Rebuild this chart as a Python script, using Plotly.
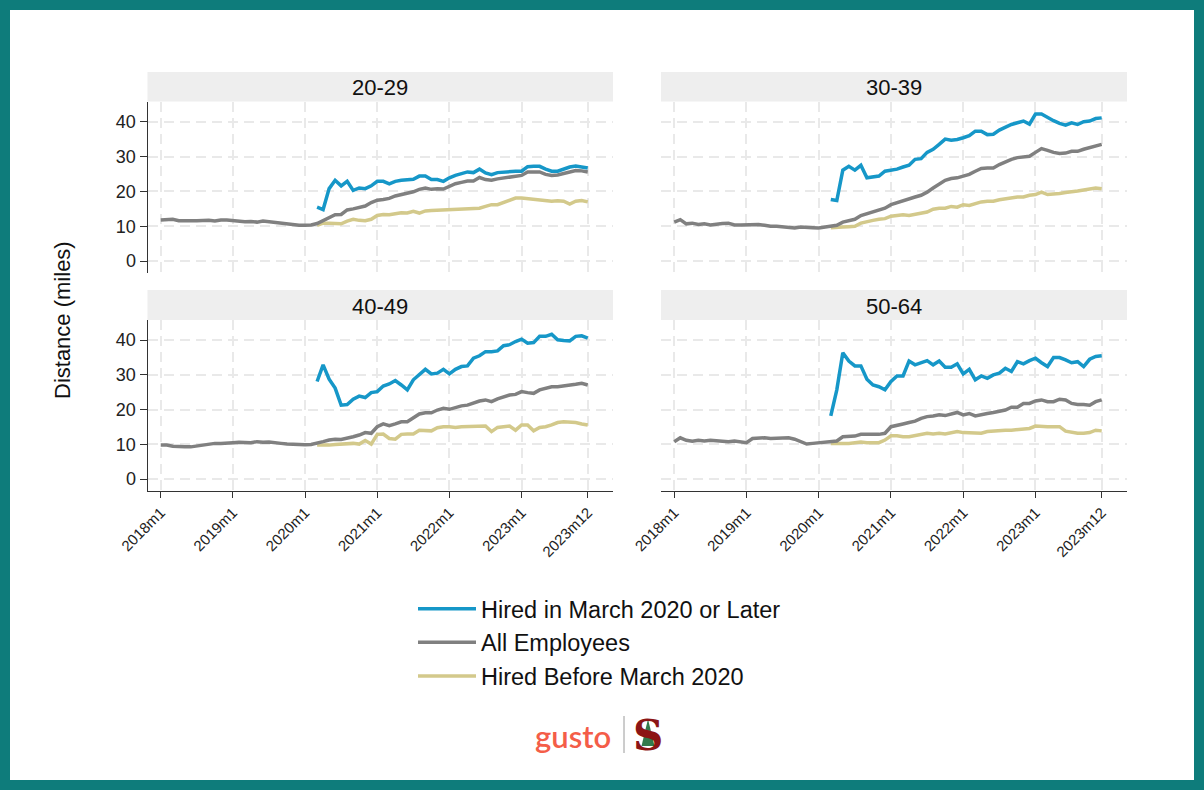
import plotly.graph_objects as go
from plotly.subplots import make_subplots

# ---------------- data ----------------
tick_labels = ["2018m1", "2019m1", "2020m1", "2021m1", "2022m1", "2023m1", "2023m12"]
month_labels = [f"{y}m{m}" for y in range(2018, 2024) for m in range(1, 13)]
hire_start = "2020m3"

panels = ["20-29", "30-39", "40-49", "50-64"]

all_20_29 = [11.8, 11.8, 12.0, 11.6, 11.5, 11.6, 11.6, 11.7, 11.7, 11.5,
             11.8, 11.8, 11.6, 11.3, 11.3, 11.4, 11.2, 11.5, 11.3, 11.2,
             11.0, 10.7, 10.4, 10.3, 10.3, 10.4, 10.8, 11.6, 12.5, 13.3,
             13.4, 14.7, 15.0, 15.5, 15.8, 16.8, 17.5, 17.7, 18.0, 18.7,
             19.1, 19.5, 19.9, 20.6, 21.0, 20.6, 20.8, 20.7, 21.5, 22.2,
             22.6, 23.0, 23.0, 24.0, 23.4, 23.2, 23.6, 23.9, 24.2, 24.4,
             24.6, 25.6, 25.7, 25.6, 24.9, 24.6, 24.7, 25.2, 25.7, 26.0,
             25.9, 25.6]
new_20_29 = [15.5, 14.8, 20.8, 23.2, 21.6, 22.9, 20.3, 21.0, 20.8, 21.6,
             22.9, 22.9, 22.2, 22.9, 23.2, 23.3, 23.5, 24.4, 24.4, 23.4,
             23.4, 22.9, 23.9, 24.6, 25.1, 25.6, 25.4, 26.4, 25.3, 24.8,
             25.4, 25.6, 25.6, 25.8, 25.8, 27.1, 27.2, 27.2, 26.4, 25.8,
             25.8, 26.4, 27.0, 27.3, 27.0, 26.7]
old_20_29 = [10.3, 10.9, 10.9, 10.7, 10.7, 11.5, 12.0, 11.7, 11.6, 12.0,
             13.1, 13.4, 13.3, 13.6, 13.9, 13.8, 14.3, 13.8, 14.4, 14.5,
             14.6, 14.5, 14.7, 14.8, 14.9, 15.1, 15.1, 15.2, 15.7, 16.2,
             16.2, 16.8, 17.6, 18.1, 18.1, 17.9, 17.7, 17.5, 17.3, 17.2,
             17.3, 17.2, 16.4, 17.2, 17.4, 17.0]

all_30_39 = [11.2, 11.9, 10.7, 10.9, 10.5, 10.7, 10.4, 10.7, 10.8, 10.9,
             10.4, 10.4, 10.5, 10.5, 10.5, 10.3, 10.0, 10.0, 9.8, 9.5,
             9.5, 9.8, 9.6, 9.6, 9.5, 9.8, 10.1, 10.3, 11.2, 11.7,
             12.0, 13.1, 13.6, 14.1, 14.6, 15.2, 16.2, 16.8, 17.4, 17.8,
             18.4, 18.9, 19.8, 21.0, 22.2, 23.2, 23.7, 23.9, 24.4, 24.9,
             25.8, 26.6, 26.7, 26.7, 27.7, 28.5, 29.2, 29.7, 29.9, 30.1,
             31.2, 32.3, 31.8, 31.2, 30.9, 31.0, 31.5, 31.5, 32.1, 32.6,
             33.1, 33.5]
new_30_39 = [17.7, 17.4, 26.1, 27.2, 26.1, 27.5, 23.9, 24.2, 24.4, 25.8,
             26.1, 26.4, 27.0, 27.5, 29.2, 29.4, 31.2, 32.1, 33.5, 35.0,
             34.7, 34.9, 35.4, 36.0, 37.3, 37.3, 36.3, 36.4, 37.6, 38.5,
             39.2, 39.7, 40.2, 39.3, 42.2, 42.2, 41.2, 40.3, 39.5, 39.0,
             39.7, 39.2, 40.0, 40.2, 40.9, 41.1]
old_30_39 = [9.6, 9.8, 9.8, 9.9, 10.0, 10.9, 11.4, 11.7, 12.0, 12.2,
             12.9, 13.1, 13.3, 13.1, 13.4, 13.6, 14.1, 14.9, 15.2, 15.2,
             15.7, 15.5, 16.2, 16.0, 16.5, 17.0, 17.2, 17.2, 17.6, 17.9,
             18.2, 18.4, 18.4, 18.9, 19.1, 19.8, 19.1, 19.2, 19.4, 19.7,
             19.8, 20.1, 20.4, 20.7, 21.0, 20.8]

all_40_49 = [9.8, 9.8, 9.5, 9.3, 9.3, 9.3, 9.6, 9.8, 10.1, 10.3,
             10.3, 10.5, 10.5, 10.6, 10.6, 10.5, 10.8, 10.6, 10.7, 10.6,
             10.3, 10.1, 10.0, 10.0, 9.9, 10.0, 10.3, 10.8, 11.25, 11.5,
             11.4, 11.7, 12.2, 12.7, 13.4, 13.2, 15.1, 15.9, 15.4, 15.9,
             16.5, 16.5, 17.5, 18.75, 19.1, 19.1, 19.9, 20.4, 20.1, 20.7,
             21.1, 21.3, 22.0, 22.5, 22.8, 22.3, 23.1, 23.75, 24.2, 24.4,
             25.2, 24.9, 24.7, 25.7, 26.2, 26.6, 26.6, 26.8, 26.9, 27.3,
             27.6, 27.1]
new_40_49 = [28.1, 32.9, 28.75, 26.2, 21.3, 21.5, 23.0, 23.9, 23.5, 24.9,
             25.2, 26.8, 27.4, 28.4, 27.1, 25.7, 28.6, 30.0, 31.6, 30.3,
             30.5, 31.6, 30.3, 31.6, 32.4, 32.6, 34.8, 35.5, 36.7, 36.7,
             36.9, 38.4, 38.7, 39.6, 40.3, 39.1, 39.3, 41.1, 41.1, 41.7,
             40.1, 39.9, 39.8, 41.1, 41.25, 40.6]
old_40_49 = [9.8, 9.7, 9.8, 10.0, 10.1, 10.3, 10.3, 10.1, 11.1, 10.1,
             12.9, 13.0, 11.7, 11.5, 12.9, 13.0, 13.0, 14.1, 14.1, 13.9,
             14.8, 15.1, 15.1, 14.9, 15.1, 15.1, 15.3, 15.1, 15.3, 13.7,
             14.9, 15.1, 15.3, 14.1, 15.6, 15.6, 13.9, 14.9, 15.1, 15.6,
             16.3, 16.5, 16.4, 16.3, 15.9, 15.6]

all_50_64 = [10.8, 11.9, 11.2, 10.9, 11.2, 11.0, 11.2, 11.0, 11.0, 10.8,
             11.0, 10.8, 10.5, 11.7, 11.9, 11.9, 11.7, 11.7, 11.7, 11.9,
             11.5, 10.8, 10.1, 10.3, 10.5, 10.8, 10.8, 11.0, 12.2, 12.4,
             12.4, 12.9, 13.0, 12.9, 12.9, 13.2, 15.1, 15.6, 15.9, 16.3,
             16.7, 17.5, 18.0, 18.2, 18.5, 18.3, 18.75, 19.2, 18.5, 18.9,
             18.2, 18.65, 18.9, 19.2, 19.6, 19.9, 20.7, 20.7, 21.8, 21.8,
             22.5, 22.8, 22.3, 22.3, 23.0, 22.8, 21.8, 21.5, 21.5, 21.3,
             22.3, 22.8]
new_50_64 = [18.2, 25.7, 36.4, 34.0, 32.6, 32.6, 28.75, 27.1, 26.6, 25.7,
             28.1, 29.7, 29.7, 34.0, 32.9, 33.5, 34.1, 32.9, 34.0, 32.2,
             32.2, 33.2, 30.3, 31.6, 28.6, 29.7, 29.0, 30.0, 30.5, 31.9,
             31.0, 33.8, 33.2, 34.1, 34.8, 33.5, 32.4, 35.0, 35.0, 34.3,
             33.5, 33.8, 32.4, 34.5, 35.3, 35.5]
old_50_64 = [10.3, 10.3, 10.1, 10.3, 10.5, 10.7, 10.5, 10.5, 10.5, 11.25,
             12.5, 12.5, 12.2, 12.2, 12.5, 12.9, 13.2, 13.0, 13.2, 13.0,
             13.4, 13.7, 13.4, 13.4, 13.2, 13.2, 13.7, 13.9, 13.9, 14.1,
             14.1, 14.3, 14.3, 14.6, 15.3, 15.1, 15.1, 15.1, 15.1, 13.8,
             13.4, 13.2, 13.2, 13.4, 14.1, 13.9]

all_series = [all_20_29, all_30_39, all_40_49, all_50_64]
new_series = [new_20_29, new_30_39, new_40_49, new_50_64]
old_series = [old_20_29, old_30_39, old_40_49, old_50_64]

series_names = ["Hired in March 2020 or Later", "All Employees", "Hired Before March 2020"]

# ---------------- style ----------------
W, H = 1204, 790
BLUE, GRAY, GOLD = "#1697c8", "#808080", "#d3c98b"
FONT = "Liberation Sans"
TEAL = "#0e7c7b"

def px(x):
    return x / W

def py(y):
    return 1 - y / H

x_idx = list(range(len(month_labels)))
start = month_labels.index(hire_start)
x_hire = x_idx[start:]
tick_vals = [month_labels.index(t) for t in tick_labels]

fig = make_subplots(rows=2, cols=2)
pos = [(1, 1), (1, 2), (2, 1), (2, 2)]

for i, (r, c) in enumerate(pos):
    first = i == 0
    fig.add_trace(go.Scatter(x=x_hire, y=old_series[i], mode="lines", name=series_names[2],
                             line=dict(color=GOLD, width=3.5), legendrank=3, legendgroup="c",
                             showlegend=first), row=r, col=c)
    fig.add_trace(go.Scatter(x=x_idx, y=all_series[i], mode="lines", name=series_names[1],
                             line=dict(color=GRAY, width=3.5), legendrank=2, legendgroup="b",
                             showlegend=first), row=r, col=c)
    fig.add_trace(go.Scatter(x=x_hire, y=new_series[i], mode="lines", name=series_names[0],
                             line=dict(color=BLUE, width=3.5), legendrank=1, legendgroup="a",
                             showlegend=first), row=r, col=c)

# geometry (pixels)
xdom = [(147.5, 613), (661, 1127)]
ydom = [(101.5, 273), (320, 491)]
hdr = [(72, 101.5), (290, 320)]

grid = dict(showgrid=True, gridcolor="#e9e9e9", gridwidth=1.5, griddash="10px,6px",
            zeroline=False, automargin=False)

layout_axes = {}
for i, (r, c) in enumerate(pos):
    k = "" if i == 0 else str(i + 1)
    xd = xdom[c - 1]
    yd = ydom[r - 1]
    bottom = r == 2
    left = c == 1
    layout_axes["xaxis" + k] = dict(
        domain=[px(xd[0]), px(xd[1])], range=[-2.2, 75.2],
        tickvals=tick_vals, ticktext=tick_labels, tickangle=-45,
        showticklabels=bottom, ticks="outside" if bottom else "", ticklen=6,
        tickcolor="#333", showline=bottom, linecolor="#333", linewidth=1,
        tickfont=dict(family=FONT, size=15, color="#222"), **grid)
    layout_axes["yaxis" + k] = dict(
        domain=[py(yd[1]), py(yd[0])], range=[-3.4, 45.8],
        tickvals=[0, 10, 20, 30, 40], showticklabels=left,
        ticks="outside" if left else "", ticklen=7, tickcolor="#333",
        showline=left, linecolor="#333", linewidth=1,
        tickfont=dict(family=FONT, size=18, color="#222"), **grid)

fig.update_layout(**layout_axes)

shapes = [dict(type="rect", xref="paper", yref="paper", x0=px(10), x1=px(W - 10),
               y0=py(H - 10), y1=py(10), fillcolor="white", line=dict(width=0), layer="below")]
annotations = []
for i, (r, c) in enumerate(pos):
    xd = xdom[c - 1]
    hd = hdr[r - 1]
    shapes.append(dict(type="rect", xref="paper", yref="paper", x0=px(xd[0]), x1=px(xd[1]),
                       y0=py(hd[1]), y1=py(hd[0]), fillcolor="#eeeeee", line=dict(width=0),
                       layer="below"))
    annotations.append(dict(text=panels[i], xref="paper", yref="paper",
                            x=px((xd[0] + xd[1]) / 2), y=py((hd[0] + hd[1]) / 2 + 1),
                            showarrow=False, xanchor="center", yanchor="middle",
                            font=dict(family=FONT, size=22, color="#111")))

annotations.append(dict(text="Distance (miles)", xref="paper", yref="paper", x=px(63), y=py(320),
                        textangle=-90, showarrow=False, xanchor="center", yanchor="middle",
                        font=dict(family=FONT, size=22, color="#111")))

# logo
annotations.append(dict(text="gusto", xref="paper", yref="paper", x=px(573), y=py(736),
                        showarrow=False, xanchor="center", yanchor="middle",
                        font=dict(family="Lato", size=31, color="#f45d48", weight=600)))
shapes.append(dict(type="line", xref="paper", yref="paper", x0=px(624), x1=px(624),
                   y0=py(753), y1=py(716), line=dict(color="#9a9a9a", width=1)))
annotations.append(dict(text="<b>S</b>", xref="paper", yref="paper", x=px(648), y=py(735),
                        showarrow=False, xanchor="center", yanchor="middle",
                        font=dict(family="DejaVu Serif", size=42, color="#8c1515")))
tree = "M {},{} L {},{} L {},{} Z".format(px(648), py(719), px(641.5), py(746), px(654.5), py(746))
shapes.append(dict(type="path", xref="paper", yref="paper", path=tree,
                   fillcolor="#1d6b3a", line=dict(width=0), opacity=0.9))

fig.update_layout(
    width=W, height=H, margin=dict(l=0, r=0, t=0, b=0, autoexpand=False),
    paper_bgcolor=TEAL, plot_bgcolor="white",
    shapes=shapes, annotations=annotations,
    legend=dict(x=px(413), y=py(587), xanchor="left", yanchor="top",
                font=dict(family=FONT, size=23.5, color="#111"),
                bgcolor="rgba(0,0,0,0)", tracegroupgap=0, itemwidth=58),
    showlegend=True,
)

fig.write_html("out.html")
